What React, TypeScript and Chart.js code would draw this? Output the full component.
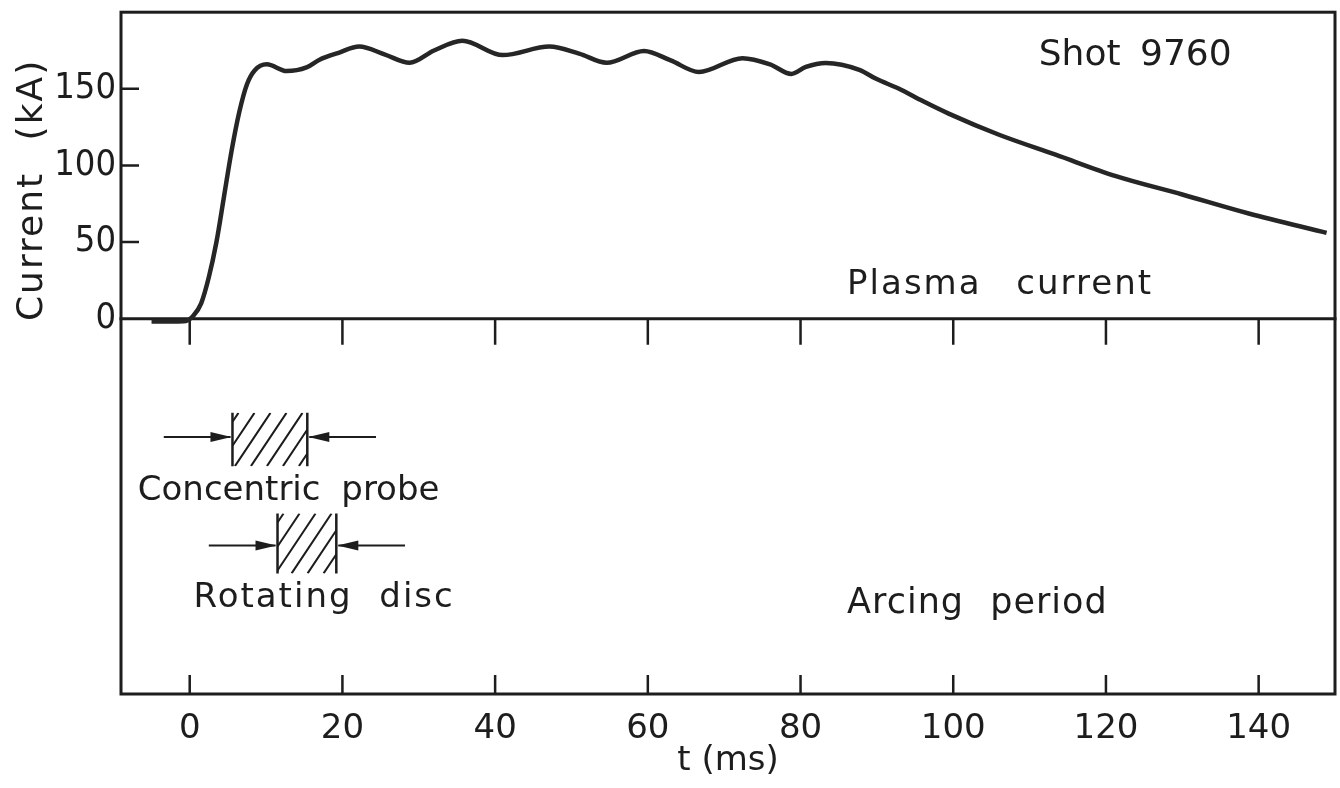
import { useEffect, useRef } from 'react';
import { Chart, registerables } from 'chart.js';

Chart.register(...registerables);

// ---- data ----
const timeMs = [-5, -2, -0.5, 0.5, 1.5, 2.5, 3.5, 4.5, 5.5, 6.5, 7.5, 8.5, 10.1, 12.7, 15.3, 17, 19.5, 22.2, 25.5, 28.8, 32, 35.7, 41, 47.1, 51, 54.6, 59.5, 63, 66.7, 72.4, 76, 78.8, 80.7, 83.3, 87.7, 89.9, 92.9, 96, 99.4, 106, 113.4, 121.3, 130, 138.7, 148.9];
const currentKA = [-1.8, -1.8, -1.5, 2, 10, 27, 50, 80, 110, 135, 153, 162, 166, 161.6, 164, 169, 173.5, 177.6, 172.5, 167, 175, 181.4, 172, 177.6, 173, 167, 174.6, 168.5, 161, 170, 166, 159.7, 164.3, 166.9, 162.4, 156.5, 150, 142, 133.8, 120, 107, 93, 81, 68.6, 56];

const xTickValues = [0, 20, 40, 60, 80, 100, 120, 140];
const yTickValues = [0, 50, 100, 150];

// measurement windows (ms)
const probeNames = ['Concentric probe', 'Rotating disc'];
const probeStartMs = [5.6, 11.5];
const probeEndMs = [15.4, 19.2];

// ---- layout / style constants ----
const X_MIN = -9;
const X_MAX = 150;
const Y_MIN = -245;
const Y_MAX = 200;
const FONT = "'DejaVu Sans', 'Liberation Sans', sans-serif";
const FONT_COND = "'DejaVu Sans Condensed', 'DejaVu Sans', sans-serif";
const INK = '#1d1d1d';

// box vertical extents (in kA units of the shared y scale) and arrow level
const boxLayout = [
  { top: -61.5, bottom: -96.3, arrow: -77.2, label: -118.2, labelT: -6.8 },
  { top: -127.2, bottom: -166.3, arrow: -148, label: -188.4, labelT: 0.5 },
];
const ARROW_TAIL_MS = 9;

const textLayout = [
  { text: 'Shot 9760', t: 111.2, v: 165.7, size: 36, spacing: 0, word: 8 },
  { text: 'Plasma current', t: 86.1, v: 15.9, size: 34, spacing: 2, word: 22 },
  { text: 'Arcing period', t: 86.1, v: -192.3, size: 35, spacing: 1, word: 14 },
];

const annotations = {
  id: 'annotations',
  beforeDatasetsDraw(chart: any) {
    const { ctx, chartArea: a, scales } = chart;
    const x = scales.x;
    const y = scales.y;
    ctx.save();
    ctx.strokeStyle = INK;
    ctx.lineWidth = 3;
    ctx.lineCap = 'square';
    ctx.strokeRect(a.left, a.top, a.right - a.left, a.bottom - a.top);
    const y0 = y.getPixelForValue(0);
    ctx.beginPath();
    ctx.moveTo(a.left, y0);
    ctx.lineTo(a.right, y0);
    ctx.stroke();
    ctx.lineWidth = 2.5;
    ctx.lineCap = 'butt';
    ctx.beginPath();
    x.ticks.forEach((tk: any) => {
      const px = x.getPixelForValue(tk.value);
      ctx.moveTo(px, y0);
      ctx.lineTo(px, y0 + 26);
      ctx.moveTo(px, a.bottom);
      ctx.lineTo(px, a.bottom - 19);
    });
    y.ticks.forEach((tk: any) => {
      if (tk.value === 0) return;
      const py = y.getPixelForValue(tk.value);
      ctx.moveTo(a.left, py);
      ctx.lineTo(a.left + 18, py);
    });
    ctx.stroke();
    ctx.restore();
  },
  afterDraw(chart: any) {
    const { ctx, chartArea: a, scales } = chart;
    const x = scales.x;
    const y = scales.y;
    ctx.save();
    ctx.strokeStyle = INK;
    ctx.fillStyle = INK;

    // hatched boxes with arrows
    probeNames.forEach((name, i) => {
      const L = boxLayout[i];
      const x1 = x.getPixelForValue(probeStartMs[i]);
      const x2 = x.getPixelForValue(probeEndMs[i]);
      const y1 = y.getPixelForValue(L.top);
      const y2 = y.getPixelForValue(L.bottom);
      const h = y2 - y1;
      const run = h / 1.5;
      ctx.save();
      ctx.beginPath();
      ctx.rect(x1, y1, x2 - x1, h);
      ctx.clip();
      ctx.lineWidth = 2;
      ctx.beginPath();
      for (let k = x1 - run + 6; k < x2; k += 16) {
        ctx.moveTo(k, y2);
        ctx.lineTo(k + run, y1);
      }
      ctx.stroke();
      ctx.restore();

      ctx.lineWidth = 2.5;
      ctx.beginPath();
      ctx.moveTo(x1, y1);
      ctx.lineTo(x1, y2);
      ctx.moveTo(x2, y1);
      ctx.lineTo(x2, y2);
      ctx.stroke();

      const ay = y.getPixelForValue(L.arrow);
      const tailL = x.getPixelForValue(probeStartMs[i] - ARROW_TAIL_MS);
      const tailR = x.getPixelForValue(probeEndMs[i] + ARROW_TAIL_MS);
      ctx.lineWidth = 2;
      ctx.beginPath();
      ctx.moveTo(tailL, ay);
      ctx.lineTo(x1 - 2, ay);
      ctx.moveTo(tailR, ay);
      ctx.lineTo(x2 + 2, ay);
      ctx.stroke();
      ctx.beginPath();
      ctx.moveTo(x1 - 1, ay);
      ctx.lineTo(x1 - 22, ay - 5);
      ctx.lineTo(x1 - 22, ay + 5);
      ctx.closePath();
      ctx.moveTo(x2 + 1, ay);
      ctx.lineTo(x2 + 22, ay - 5);
      ctx.lineTo(x2 + 22, ay + 5);
      ctx.closePath();
      ctx.fill();

      ctx.font = `34px ${FONT}`;
      ctx.textAlign = 'left';
      ctx.textBaseline = 'alphabetic';
      (ctx as any).letterSpacing = i === 0 ? '0px' : '2px';
      (ctx as any).wordSpacing = i === 0 ? '10px' : '14px';
      ctx.fillText(name, x.getPixelForValue(L.labelT), y.getPixelForValue(L.label));
    });

    // free text
    textLayout.forEach((t) => {
      ctx.font = `${t.size}px ${FONT}`;
      ctx.textAlign = 'left';
      ctx.textBaseline = 'alphabetic';
      (ctx as any).letterSpacing = `${t.spacing}px`;
      (ctx as any).wordSpacing = `${t.word}px`;
      ctx.fillText(t.text, x.getPixelForValue(t.t), y.getPixelForValue(t.v));
    });

    // y-axis title
    ctx.save();
    ctx.translate(a.left - 79, y.getPixelForValue(84));
    ctx.rotate(-Math.PI / 2);
    ctx.font = `36px ${FONT}`;
    ctx.textAlign = 'center';
    ctx.textBaseline = 'alphabetic';
    (ctx as any).letterSpacing = '2px';
    (ctx as any).wordSpacing = '18px';
    ctx.fillText('Current (kA)', 0, 0);
    ctx.restore();

    ctx.restore();
  },
};

export default function App() {
  const ref = useRef<HTMLCanvasElement | null>(null);

  useEffect(() => {
    document.body.style.margin = '0';
    if (!ref.current) return;
    const chart = new Chart(ref.current, {
      type: 'line',
      data: {
        datasets: [
          {
            label: 'Plasma current',
            data: timeMs.map((t, i) => ({ x: t, y: currentKA[i] })),
            borderColor: '#262626',
            borderWidth: 4.5,
            pointRadius: 0,
            cubicInterpolationMode: 'monotone',
            fill: false,
          },
        ],
      },
      options: {
        animation: false,
        responsive: true,
        maintainAspectRatio: false,
        layout: { padding: { top: 7, right: 5, left: 8, bottom: 0 } },
        plugins: {
          legend: { display: false },
          tooltip: { enabled: false },
          title: { display: false },
        },
        scales: {
          x: {
            type: 'linear',
            min: X_MIN,
            max: X_MAX,
            afterBuildTicks: (s: any) => {
              s.ticks = xTickValues.map((v) => ({ value: v }));
            },
            afterFit: (s: any) => {
              s.height = 94;
            },
            grid: { display: false, drawTicks: false },
            border: { display: false },
            ticks: {
              color: INK,
              padding: 15,
              maxRotation: 0,
              font: { family: FONT, size: 34 },
              callback: (v: any) => String(v),
            },
            title: {
              display: true,
              text: 't (ms)',
              color: INK,
              font: { family: FONT, size: 34 },
              padding: { top: 0, bottom: 6 },
            },
          },
          y: {
            type: 'linear',
            min: Y_MIN,
            max: Y_MAX,
            afterBuildTicks: (s: any) => {
              s.ticks = yTickValues.map((v) => ({ value: v }));
            },
            afterFit: (s: any) => {
              s.width = 113;
            },
            grid: { display: false, drawTicks: false },
            border: { display: false },
            ticks: {
              color: INK,
              padding: 5,
              font: { family: FONT_COND, size: 36, lineHeight: 0.4 },
              callback: (v: any) => String(v),
            },
          },
        },
      },
      plugins: [annotations],
    });
    return () => chart.destroy();
  }, []);

  return (
    <div style={{ position: 'relative', width: '1340px', height: '788px', background: '#fff' }}>
      <canvas ref={ref} />
    </div>
  );
}
